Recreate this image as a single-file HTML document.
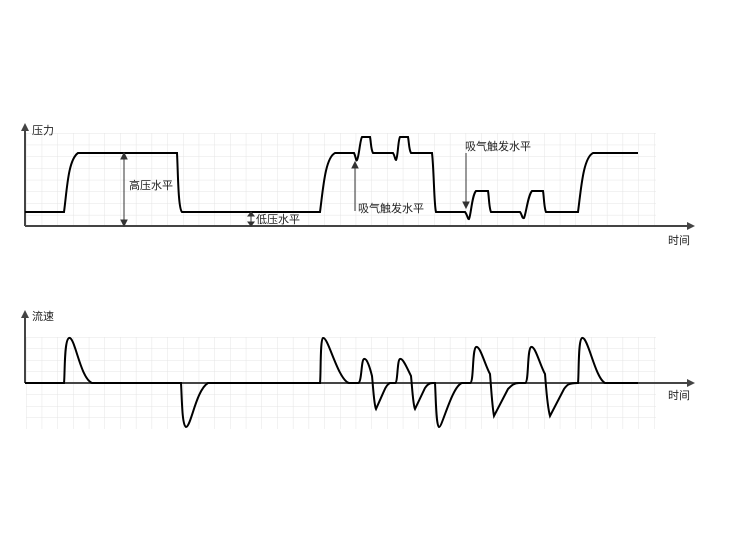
<!DOCTYPE html>
<html><head><meta charset="utf-8"><style>
html,body{margin:0;padding:0;background:#fff;}
svg{display:block;}
text{font-family:"Liberation Sans","Noto Sans CJK SC",sans-serif;font-size:11px;fill:#222;}
</style></head><body>
<svg width="735" height="555" viewBox="0 0 735 555" xmlns="http://www.w3.org/2000/svg">
<defs>
<pattern id="g" x="26" y="133" width="15.7" height="11.7" patternUnits="userSpaceOnUse">
<path d="M0 0H15.7M0 0V11.7" fill="none" stroke="#e4e4e4" stroke-width="1"/>
</pattern>
<pattern id="g2" x="26" y="337" width="15.7" height="11.5" patternUnits="userSpaceOnUse">
<path d="M0 0H15.7M0 0V11.5" fill="none" stroke="#e4e4e4" stroke-width="1"/>
</pattern>
</defs>
<rect x="26" y="133" width="630" height="93" fill="url(#g)"/>
<rect x="26" y="337" width="630" height="92" fill="url(#g2)"/>
<!-- axes top -->
<g stroke="#444" stroke-width="2" fill="none">
<path d="M25 226V130M25 226H688"/>
<path d="M25 383V317M25 383H688"/>
</g>
<g fill="#444">
<path d="M25 123L21 131H29Z"/><path d="M695 226L687 222V230Z"/>
<path d="M25 310L21 318H29Z"/><path d="M695 383L687 379V387Z"/>
</g>
<text x="32" y="134">压力</text>
<text x="668" y="244">时间</text>
<text x="32" y="320">流速</text>
<text x="668" y="399">时间</text>
<!-- pressure trace -->
<path fill="none" stroke="#000" stroke-width="2" d="M25 212H64C67 190 68 160 78 153H177C178 170 178 208 182 212H320C323 190 325 158 335 153H354C356 157 356 162 357 160C359 157 360 140 362 137H370C371 142 371 150 373 153H393C395 156 395 160 396 160C398 157 398 140 400 137H408C409 142 409 150 411 153H432C434 170 434 205 436 212H465C467 214 468 220 469 219C471 215 472 195 476 191H488C489 196 489 208 491 212H520C522 214 522 219 524 218C526 214 528 195 532 191H543C544 196 544 208 546 212H578C581 190 583 158 593 153H638"/>
<!-- pressure annotations -->
<g stroke="#333" stroke-width="1" fill="#333">
<path d="M124 157V222" fill="none"/><path d="M124 153L121 159H127Z"/><path d="M124 226L121 220H127Z"/>
<path d="M251 215V223" fill="none"/><path d="M251 212L248 216H254Z"/><path d="M251 226L248 222H254Z"/>
<path d="M355 211V166" fill="none"/><path d="M355 162L352 168H358Z"/>
<path d="M466 153V204" fill="none"/><path d="M466 208L463 202H469Z"/>
</g>
<text x="129" y="189">高压水平</text>
<text x="256" y="223">低压水平</text>
<text x="358" y="212">吸气触发水平</text>
<text x="465" y="150">吸气触发水平</text>
<!-- flow trace -->
<path fill="none" stroke="#000" stroke-width="2" d="M25 383H64C65 375 64 340 69 338C75 336 80 378 92 383H181C182 400 182 425 186 427C191 427 196 390 208 383H320C321 375 320 340 323 338C328 336 338 380 349 383H358C362 383 361 360 364 359C367 358 370 368 372 376C373 385 374 405 376 409L384 391C386 386 388 384 390 383H395C398 383 397 360 400 359C403 358 407 368 411 376C412 385 413 405 415 409L425 388C427 385 429 383 433 383H435C436 400 436 425 439 427C442 428 452 386 462 383H470C474 383 472 350 476 347C480 345 485 365 490 374C491 385 492 405 494 416L508 389C512 385 514 383 519 383H525C529 383 527 350 531 347C535 345 540 365 545 374C546 385 547 405 550 416L564 389C567 385 568 383 578 383C579 375 578 340 582 338C588 336 595 378 605 383H638"/>
</svg>
</body></html>
